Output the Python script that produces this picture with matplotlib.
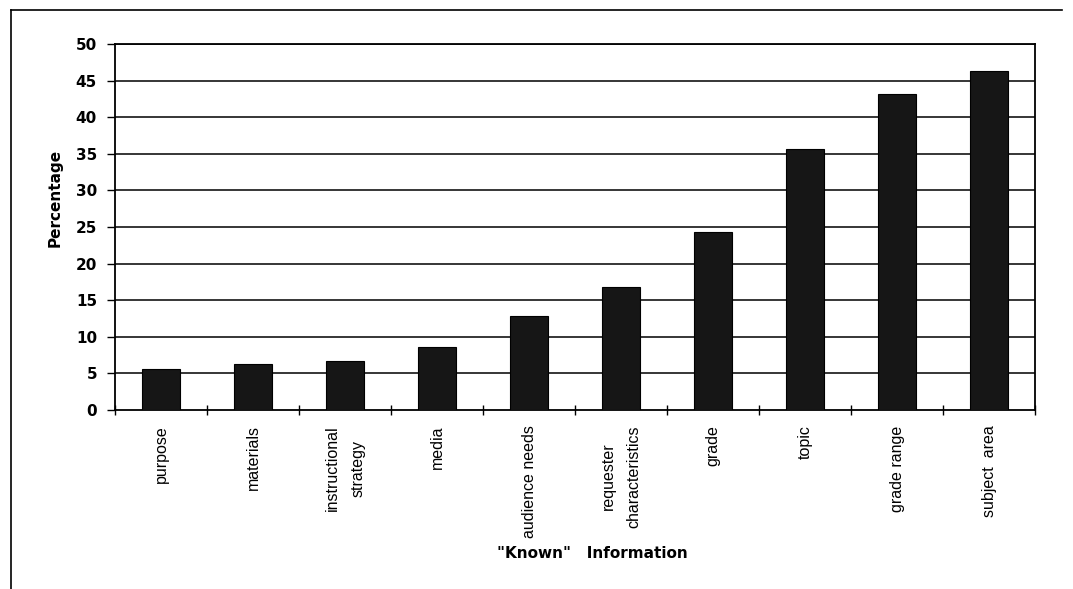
# ==============================================================================
# "Known" information bar chart
# ==============================================================================
import matplotlib
matplotlib.use('Agg')
import matplotlib.pyplot as plt
import numpy as np

# data
categories = ['purpose', 'materials', 'instructional\nstrategy', 'media',
              'audience needs', 'requester\ncharacteristics', 'grade',
              'topic', 'grade range', 'subject  area']
percentages = [5.6, 6.3, 6.7, 8.6, 12.9, 16.8, 24.3, 35.6, 43.2, 46.3]
y_ticks = [0, 5, 10, 15, 20, 25, 30, 35, 40, 45, 50]

plt.rcParams['font.family'] = ['Liberation Sans', 'DejaVu Sans']

fig = plt.figure(figsize=(10.73, 5.89), dpi=100)
ax = fig.add_axes([0.1072, 0.3039, 0.8574, 0.6214])

x = np.arange(len(categories))
ax.bar(x, percentages, width=0.42, color='#161616', edgecolor='#000000',
       linewidth=0.8, zorder=3)

# grid lines at every 5
for yv in y_ticks[1:]:
    ax.axhline(yv, color='black', lw=1.1, zorder=1)

ax.set_xlim(-0.5, len(categories) - 0.5)
ax.set_ylim(0, 50)
ax.set_yticks(y_ticks)
ax.set_yticklabels([str(v) for v in y_ticks], fontsize=11,
                   fontweight='bold', family='DejaVu Sans')
ax.tick_params(axis='y', direction='out', length=6, width=1, pad=7)

# category ticks sit between the bars
ax.set_xticks(np.arange(len(categories) + 1) - 0.5, minor=False)
ax.set_xticklabels([])
ax.tick_params(axis='x', direction='inout', length=7, width=1)
ax.set_xticks(x, minor=True)
labels = ax.set_xticklabels(categories, minor=True, rotation=90,
                            fontsize=11.5, va='top', ha='center',
                            linespacing=1.9)
for lab in labels:
    lab.set_multialignment('center')
ax.tick_params(axis='x', which='minor', length=0, pad=11)

for s in ax.spines.values():
    s.set_linewidth(1.3)
    s.set_color('black')

fig.text(0.0515, 0.664, 'Percentage', fontsize=11, fontweight='bold',
         family='DejaVu Sans', rotation=90, ha='center', va='center')
fig.text(0.552, 0.061, '"Known"   Information', fontsize=11,
         fontweight='bold', family='DejaVu Sans', ha='center', va='center')

# outer frame (left and top edges)
fig.add_artist(plt.Line2D([0.0102, 0.0102], [0.0, 0.983], color='black',
                          lw=1.2, transform=fig.transFigure))
fig.add_artist(plt.Line2D([0.0102, 0.99], [0.983, 0.983], color='black',
                          lw=1.2, transform=fig.transFigure))

fig.savefig('out.png', dpi=100)
